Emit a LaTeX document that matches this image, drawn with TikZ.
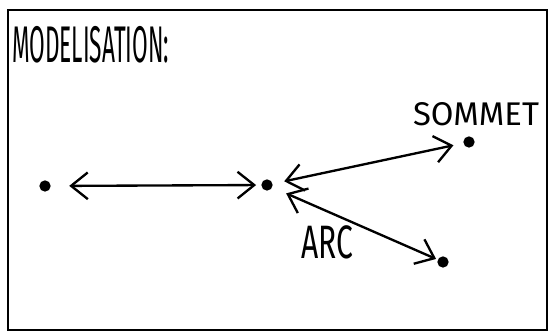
\documentclass[tikz,border=0pt]{standalone}
\usepackage{fontspec}
\setmainfont{Fira Sans}
\usetikzlibrary{arrows.meta, positioning}

\tikzset{
    sommet/.style={circle, fill=black, inner sep=0pt, minimum size=0.34cm},
    arc/.style={{Straight Barb[length=5mm, width=8mm]}-{Straight Barb[length=5mm, width=8mm]}, line width=2pt},
    etiquette/.style={inner sep=0pt, font=\fontsize{28}{30}\selectfont}
}

\begin{document}
\begin{tikzpicture}
        \useasboundingbox (0,0) rectangle (16.5,10.08);
        % Cadre
        \draw[line width=2.4pt] (0.24,0.18) rectangle (16.41,9.78);

        % Titre
        \node[etiquette, anchor=west, xscale=0.44, transform shape, font=\fontsize{44}{46}\selectfont] (titre) at (0.36,8.73) {MODELISATION:};

        % Sommets
        \node[sommet] (s1) at (1.35,4.50) {};
        \node[sommet] (s2) at (8.01,4.53) {};
        \node[sommet] (s3) at (14.07,5.82) {};
        \node[sommet] (s4) at (13.29,2.22) {};
        \node[etiquette] (nomsommet) at (14.28,6.66) {SOMMET};

        % Arcs
        \draw[arc, shorten <=0.55cm, shorten >=0.15cm] (s1) -- (s2);
        \draw[arc, shorten <=0.35cm, shorten >=0.3cm] (s2) -- (s3);
        \draw[arc, shorten <=0.45cm, shorten >=0.05cm] (s2) -- (s4);
        \node[etiquette, font=\fontsize{40}{42}\selectfont, xscale=0.64, transform shape] (nomarc) at (9.81,2.82) {ARC};
\end{tikzpicture}
\end{document}
